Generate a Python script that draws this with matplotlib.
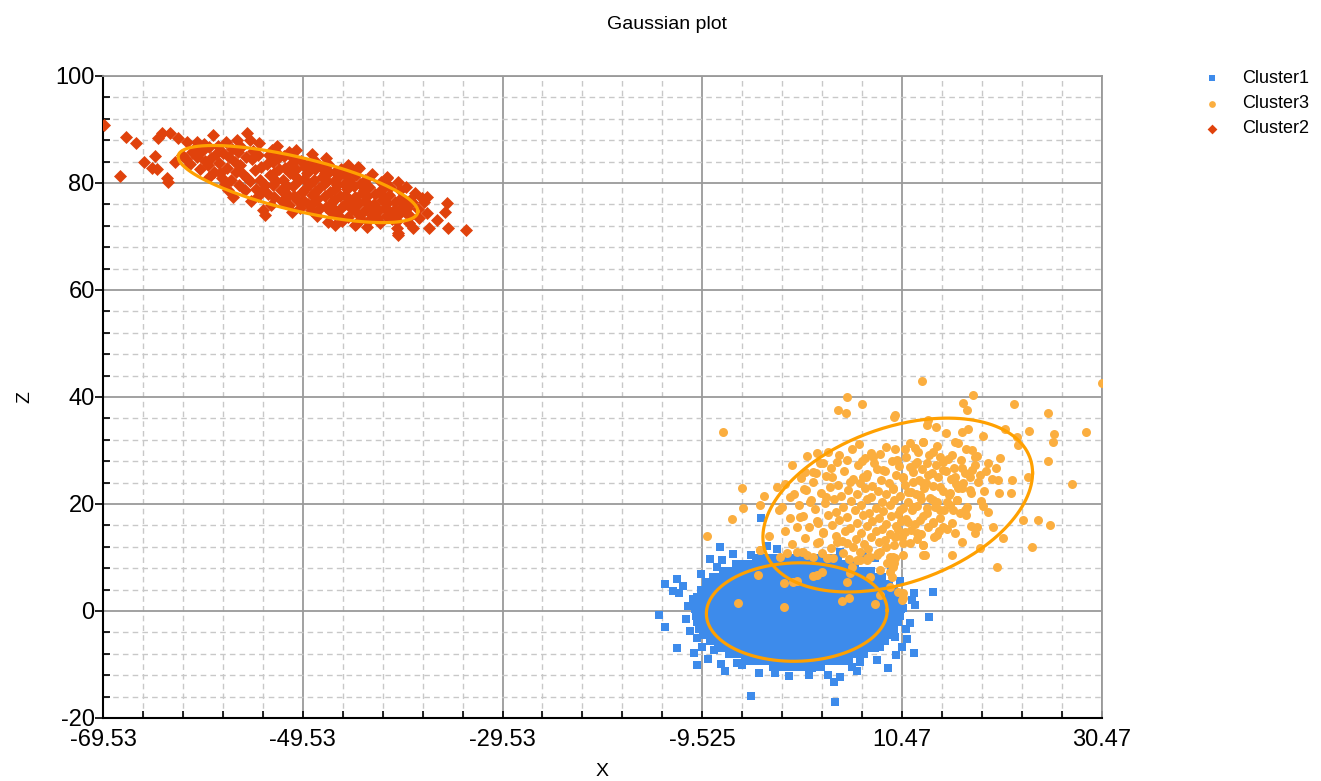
import numpy as np
import matplotlib.pyplot as plt
from matplotlib.ticker import FixedLocator, MultipleLocator

plt.rcParams['font.family'] = ['Liberation Sans', 'DejaVu Sans']
plt.rcParams['axes.unicode_minus'] = False

# ---------------- data ----------------
# Cluster1 (blue squares): dense core, one row per z level
c1_rows = [
    (9.9, [-4.1, -3.4, -2.6, -1.9, -1.1, -0.4, 0.4, 1.1, 1.9, 2.6, 3.4, 4.1]),
    (8.7, [-6.1, -5.4, -4.6, -3.9, -3.1, -2.4, -1.6, -0.9, -0.1, 0.6, 1.4, 2.1, 2.9, 3.6, 4.4, 5.1, 5.8]),
    (7.5, [-7.4, -6.7, -5.9, -5.2, -4.4, -3.7, -2.9, -2.2, -1.4, -0.7, 0.1, 0.8, 1.6, 2.3, 3.1, 3.8, 4.6,
           5.3, 6.1, 6.8, 7.4]),
    (6.3, [-8.4, -7.7, -6.9, -6.2, -5.4, -4.7, -3.9, -3.2, -2.4, -1.7, -0.9, -0.2, 0.6, 1.3, 2.1, 2.8, 3.6,
           4.3, 5.1, 5.8, 6.6, 7.3, 8.1, 8.5]),
    (5.1, [-9.1, -8.4, -7.6, -6.9, -6.1, -5.4, -4.6, -3.9, -3.1, -2.4, -1.6, -0.9, -0.1, 0.6, 1.4, 2.1, 2.9,
           3.6, 4.4, 5.1, 5.9, 6.6, 7.4, 8.1, 8.9, 9.2]),
    (3.9, [-9.6, -8.9, -8.1, -7.4, -6.6, -5.9, -5.1, -4.4, -3.6, -2.9, -2.1, -1.4, -0.6, 0.1, 0.9, 1.6, 2.4,
           3.1, 3.9, 4.6, 5.4, 6.1, 6.9, 7.6, 8.4, 9.1, 9.7]),
    (2.7, [-10.0, -9.3, -8.5, -7.8, -7.0, -6.3, -5.5, -4.8, -4.0, -3.3, -2.5, -1.8, -1.0, -0.3, 0.5, 1.2,
           2.0, 2.7, 3.5, 4.2, 5.0, 5.7, 6.5, 7.2, 8.0, 8.7, 9.5, 10.0]),
    (1.5, [-10.2, -9.5, -8.7, -8.0, -7.2, -6.5, -5.7, -5.0, -4.2, -3.5, -2.7, -2.0, -1.2, -0.5, 0.3, 1.0,
           1.8, 2.5, 3.3, 4.0, 4.8, 5.5, 6.3, 7.0, 7.8, 8.5, 9.3, 10.0, 10.3]),
    (0.3, [-10.3, -9.6, -8.8, -8.1, -7.3, -6.6, -5.8, -5.1, -4.3, -3.6, -2.8, -2.1, -1.3, -0.6, 0.2, 0.9,
           1.7, 2.4, 3.2, 3.9, 4.7, 5.4, 6.2, 6.9, 7.7, 8.4, 9.2, 9.9, 10.4]),
    (-0.9, [-10.2, -9.5, -8.7, -8.0, -7.2, -6.5, -5.7, -5.0, -4.2, -3.5, -2.7, -2.0, -1.2, -0.5, 0.3, 1.0,
            1.8, 2.5, 3.3, 4.0, 4.8, 5.5, 6.3, 7.0, 7.8, 8.5, 9.3, 10.0, 10.3]),
    (-2.1, [-10.1, -9.4, -8.6, -7.9, -7.1, -6.4, -5.6, -4.9, -4.1, -3.4, -2.6, -1.9, -1.1, -0.4, 0.4, 1.1,
            1.9, 2.6, 3.4, 4.1, 4.9, 5.6, 6.4, 7.1, 7.9, 8.6, 9.4, 10.1]),
    (-3.3, [-9.8, -9.1, -8.3, -7.6, -6.8, -6.1, -5.3, -4.6, -3.8, -3.1, -2.3, -1.6, -0.8, -0.1, 0.7, 1.4,
            2.2, 2.9, 3.7, 4.4, 5.2, 5.9, 6.7, 7.4, 8.2, 8.9, 9.7]),
    (-4.5, [-9.4, -8.7, -7.9, -7.2, -6.4, -5.7, -4.9, -4.2, -3.4, -2.7, -1.9, -1.2, -0.4, 0.3, 1.1, 1.8,
            2.6, 3.3, 4.1, 4.8, 5.6, 6.3, 7.1, 7.8, 8.6, 9.3]),
    (-5.7, [-8.7, -8.0, -7.2, -6.5, -5.7, -5.0, -4.2, -3.5, -2.7, -2.0, -1.2, -0.5, 0.3, 1.0, 1.8, 2.5,
            3.3, 4.0, 4.8, 5.5, 6.3, 7.0, 7.8, 8.5, 8.8]),
    (-6.9, [-7.9, -7.2, -6.4, -5.7, -4.9, -4.2, -3.4, -2.7, -1.9, -1.2, -0.4, 0.3, 1.1, 1.8, 2.6, 3.3,
            4.1, 4.8, 5.6, 6.3, 7.1, 7.8]),
    (-8.1, [-6.8, -6.1, -5.3, -4.6, -3.8, -3.1, -2.3, -1.6, -0.8, -0.1, 0.7, 1.4, 2.2, 2.9, 3.7, 4.4,
            5.2, 5.9, 6.7]),
    (-9.3, [-5.2, -4.5, -3.7, -3.0, -2.2, -1.5, -0.7, 0.0, 0.8, 1.5, 2.3, 3.0, 3.8, 4.5, 5.2]),
    (-10.5, [-2.4, -1.6, -0.8, 0.0, 0.8, 1.6, 2.4]),
]
c1_outliers = [
    (-7.7, 12.0), (-7.5, 9.5), (-8.0, 8.2), (-13.3, 5.0), (-12.1, 6.0), (-11.9, 3.4), (-12.5, 3.7),
    (-10.5, 2.2), (-13.9, -0.8), (-13.3, -3.0), (-12.1, -6.9), (-10.1, -10.1), (-7.6, -9.9), (-4.6, -15.9),
    (-10.0, -0.2), (-9.9, -2.1), (-10.1, -5.0), (-9.5, -6.7), (-9.1, 5.4), (-8.8, -1.3), (-8.3, -7.3),
    (-6.0, -9.7), (-5.5, -10.1), (-3.8, -11.6), (-2.2, -11.6), (-4.6, 10.5), (-5.1, 8.4), (-4.3, 8.2),
    (-3.0, 12.1), (4.3, 11.0), (13.6, 3.6), (13.2, -1.1), (11.7, 3.4), (11.5, 2.1), (10.9, -3.4),
    (10.5, -6.7), (11.7, -7.9), (9.1, -10.6), (9.8, -4.9), (9.6, -1.1), (10.6, 0.6), (8.3, -6.7),
    (6.3, -9.5), (5.5, -10.5), (4.3, -12.3), (3.7, -13.3), (3.1, -12.0), (3.8, -17.0), (1.5, -10.6),
    (0.7, -10.5), (-1.1, -10.1), (8.6, 3.9), (8.1, 5.2), (6.6, 10.5), (-3.6, 17.3), (-2.0, 11.5),
    (-11.0, 1.0), (-11.2, -1.5), (-10.8, -3.8), (-11.5, 4.6), (-9.6, 7.0), (-8.7, 9.8), (-6.4, 10.6),
    (-10.4, -7.9), (-8.9, -9.0), (-7.2, -11.2), (-0.8, -12.2), (1.2, -11.9), (6.0, -11.3), (8.0, -9.2),
    (9.9, -8.3), (11.0, -5.2), (11.3, -2.3), (11.8, 1.2), (10.3, 5.6), (9.4, 8.2), (7.8, 9.9),
]

# Cluster3 (orange circles)
c3_points = [
    (6.2, 31.3), (8.9, 30.7), (11.3, 31.4), (14.0, 30.8), (15.8, 31.6), (12.6, 31.6),
    (3.1, 29.8), (5.5, 30.3), (7.4, 29.6), (9.8, 30.2), (12.1, 29.7), (16.9, 30.2),
    (1.0, 28.9), (4.2, 29.2), (6.8, 28.6), (8.3, 29.3), (10.9, 28.7), (13.2, 29.1), (15.1, 28.5), (18.0, 29.0),
    (2.3, 27.7), (5.0, 28.2), (7.7, 27.6), (9.5, 28.1), (11.8, 27.5), (14.6, 27.9), (16.4, 28.3), (19.1, 27.6),
    (-0.5, 27.2), (3.4, 26.8), (6.1, 27.3), (8.0, 26.6), (10.2, 27.1), (12.5, 26.5), (13.9, 27.2), (15.7, 26.7),
    (17.8, 27.3),
    (1.9, 25.8), (4.7, 26.2), (7.0, 25.6), (8.8, 26.1), (9.9, 25.4), (11.6, 26.0), (13.1, 25.5), (14.9, 26.1),
    (16.8, 25.7), (18.9, 26.2),
    (0.4, 24.9), (2.9, 25.2), (5.6, 24.6), (6.9, 25.1), (8.4, 24.5), (10.6, 24.9), (12.2, 24.4), (14.1, 25.1),
    (15.4, 24.6), (17.3, 25.0), (19.5, 24.7),
    (-1.2, 23.8), (1.6, 24.1), (4.1, 23.6), (6.3, 24.0), (7.5, 23.4), (9.2, 23.9), (10.8, 23.5), (12.9, 24.0),
    (13.6, 23.3), (15.9, 23.8), (18.1, 24.2),
    (0.9, 22.7), (3.3, 23.1), (5.1, 22.6), (6.8, 22.9), (8.1, 22.4), (9.6, 22.8), (11.4, 22.3), (12.7, 23.0),
    (14.6, 22.5), (16.5, 22.9), (18.7, 22.4),
    (-0.3, 21.8), (2.4, 22.1), (4.4, 21.5), (6.0, 21.9), (7.4, 21.3), (8.9, 21.8), (10.3, 21.4), (11.9, 21.9),
    (13.3, 21.2), (15.2, 21.7), (17.4, 22.0),
    (1.4, 20.7), (3.7, 21.0), (5.4, 20.5), (7.0, 20.9), (8.5, 20.3), (9.7, 20.8), (11.1, 20.4), (12.4, 20.9),
    (14.0, 20.3), (16.0, 20.8), (18.4, 20.5),
    (0.2, 19.8), (2.8, 20.1), (4.6, 19.5), (6.4, 19.9), (7.9, 19.3), (9.3, 19.8), (10.6, 19.2), (12.0, 19.7),
    (13.8, 19.4), (15.3, 19.9), (17.0, 19.5),
    (-1.8, 18.8), (1.8, 19.0), (3.9, 18.5), (5.8, 18.9), (7.2, 18.3), (8.6, 18.7), (10.1, 18.2), (11.5, 18.8),
    (13.0, 18.4), (14.7, 18.9), (16.3, 18.3),
    (0.6, 17.8), (3.1, 18.0), (5.0, 17.5), (6.6, 17.9), (8.2, 17.3), (9.4, 17.8), (10.9, 17.2), (12.6, 17.7),
    (14.3, 17.4), (16.9, 17.9),
    (2.0, 16.8), (4.2, 17.0), (6.0, 16.5), (7.5, 16.9), (8.9, 16.3), (10.4, 16.8), (11.8, 16.2), (13.6, 16.7),
    (15.5, 16.4),
    (1.2, 15.7), (3.5, 16.0), (5.3, 15.5), (7.0, 15.9), (8.5, 15.3), (9.9, 15.8), (11.4, 15.2), (13.1, 15.7),
    (15.0, 15.4), (17.4, 15.8),
    (2.6, 14.8), (4.8, 15.0), (6.4, 14.5), (7.9, 14.9), (9.3, 14.3), (10.8, 14.8), (12.4, 14.4), (14.2, 14.9),
    (0.8, 13.7), (3.9, 14.0), (5.9, 13.5), (7.4, 13.9), (8.8, 13.3), (10.5, 13.8), (12.0, 13.4), (13.7, 13.8),
    (2.2, 12.8), (4.5, 13.0), (6.7, 12.5), (8.2, 12.9), (9.7, 12.3), (11.3, 12.7),
    (3.4, 11.8), (5.6, 12.0), (7.1, 11.5), (8.9, 11.9), (4.6, 10.8), (6.3, 11.0), (8.0, 10.5),
    (5.2, 9.8), (7.3, 10.1),
    # outer points
    (4.95, 40.0), (6.45, 38.7), (4.05, 37.6), (4.85, 37.0), (-7.47, 33.5), (9.65, 36.3), (1.94, 29.5),
    (2.55, 27.7), (3.95, 27.9), (6.45, 28.0), (7.55, 28.8), (0.74, 26.0), (1.54, 26.0), (3.45, 25.0),
    (5.25, 24.1), (6.55, 25.0), (8.55, 26.4), (-5.56, 23.0), (-2.06, 23.2), (-3.36, 21.5), (0.64, 22.8),
    (-0.76, 21.3), (-3.76, 19.8), (-5.46, 19.3), (-1.56, 19.4), (1.24, 20.4), (2.84, 21.3), (-6.56, 17.2),
    (-0.76, 17.4), (0.24, 17.6), (-0.06, 15.7), (-1.26, 15.0), (-2.86, 14.0), (-9.07, 14.0), (-0.56, 12.5),
    (-3.76, 11.4), (0.54, 11.0), (1.94, 12.7), (2.55, 14.6), (2.05, 16.4), (3.95, 12.9), (4.95, 12.7),
    (2.95, 9.9), (5.95, 9.5), (6.95, 9.9), (8.25, 11.0), (9.25, 10.1), (9.65, 9.0),
    (12.45, 43.0), (30.55, 42.6), (17.56, 40.4), (16.56, 38.9), (16.96, 37.6), (21.66, 38.7), (25.06, 37.0),
    (9.75, 36.6), (13.05, 35.7), (12.95, 34.8), (13.85, 34.4), (14.85, 33.3), (16.46, 33.5), (17.06, 34.0),
    (18.56, 32.7), (20.76, 34.0), (21.96, 32.5), (22.06, 31.0), (23.16, 33.6), (25.66, 33.1), (25.56, 31.6),
    (28.86, 33.5), (25.06, 28.0), (27.46, 23.7), (20.26, 28.6), (19.86, 26.7), (20.06, 24.5), (20.16, 22.1),
    (21.46, 24.5), (21.36, 22.1), (23.06, 25.0), (22.56, 17.0), (24.06, 17.0), (25.26, 16.1), (23.46, 12.0),
    (19.96, 8.2), (18.56, 19.6), (19.06, 18.5), (19.56, 15.7), (17.96, 15.7), (17.76, 14.6), (20.56, 13.6),
    (18.26, 11.8), (16.46, 12.9), (15.46, 10.5), (12.56, 12.3), (12.76, 10.5), (10.55, 12.7),
    (12.56, 31.6), (10.75, 30.3), (11.75, 30.5), (13.55, 29.7), (14.25, 28.8), (15.46, 29.2), (16.06, 31.4),
    (17.46, 30.1), (17.76, 28.8), (16.46, 26.7), (17.46, 26.4), (18.26, 25.4), (9.95, 28.2), (11.25, 26.9),
    (11.95, 27.9), (12.95, 27.7), (13.45, 25.8), (14.55, 26.4), (15.75, 25.0), (16.56, 23.9), (17.26, 22.6),
    (16.06, 23.0), (15.26, 22.1), (14.25, 23.2), (12.56, 23.9), (11.55, 24.1), (10.55, 25.0), (9.55, 23.0),
    (11.05, 22.2), (12.25, 21.7), (13.55, 20.7), (14.95, 20.4), (15.96, 20.7), (16.76, 18.9), (15.55, 18.9),
    (14.25, 18.9), (12.95, 19.3), (11.55, 19.4), (10.25, 18.9), (11.05, 16.6), (12.25, 17.0), (13.55, 16.4),
    (14.55, 15.7), (15.75, 14.6), (13.95, 14.2), (11.95, 14.6), (10.05, 15.1), (9.75, 13.8),
    # points lying over the blue cluster
    (-5.9, 1.5), (-1.3, 0.8), (4.45, 1.9), (5.15, 2.4), (7.75, 1.3), (10.45, 2.1), (-3.9, 6.7), (-1.35, 5.2),
    (-0.06, 5.6), (1.54, 6.5), (2.45, 7.3), (5.25, 7.1), (7.25, 6.4), (8.25, 7.7), (9.25, 7.3), (10.05, 3.6),
    (10.55, 2.4), (8.95, 9.0), (9.55, 10.1), (6.95, 9.5), (3.55, 9.9), (2.45, 10.8), (1.55, 10.1), (0.44, 11.0),
    (-1.06, 10.8), (-1.76, 10.1), (-3.76, 11.4), (8.25, 3.0), (10.55, 3.4), (9.25, 4.5), (9.45, 6.4),
    (9.55, 8.2), (9.75, 9.9), (10.55, 10.5), (12.55, 10.5), (12.55, 12.3), (-0.46, 5.4), (1.94, 6.7),
    (5.45, 8.2), (4.95, 5.4), (6.25, 9.5), (8.05, 10.8), (-0.06, 11.0), (0.95, 10.5), (3.05, 9.9),
]

# Cluster2 (red diamonds)
c2_points = [
    (-69.4, 90.8), (-67.2, 88.6), (-66.2, 87.5), (-67.8, 81.3), (-65.4, 83.9), (-64.6, 82.8), (-64.1, 82.6),
    (-64.3, 85.0), (-63.1, 80.9), (-63.0, 80.2), (-64.0, 88.4), (-63.6, 89.3), (-62.8, 89.3), (-62.0, 88.4),
    (-62.3, 83.9), (-61.1, 87.7), (-60.1, 87.7), (-58.5, 89.0), (-55.1, 89.3), (-54.8, 88.0), (-56.5, 77.4),
    (-53.5, 75.0), (-53.3, 74.0), (-50.2, 86.2), (-50.9, 85.8), (-47.2, 84.7), (-43.9, 82.8), (-44.7, 82.6),
    (-41.1, 80.9), (-40.0, 80.2), (-47.0, 72.7), (-46.3, 72.1), (-44.2, 72.3), (-43.1, 71.8), (-41.8, 72.5),
    (-40.0, 70.7), (-40.1, 71.6), (-38.5, 71.6), (-36.9, 71.6), (-35.0, 71.6), (-33.2, 71.2), (-36.1, 73.1),
    (-37.1, 74.4), (-37.6, 77.2), (-37.1, 77.4), (-35.1, 76.3), (-35.3, 74.6), (-38.8, 76.8), (-39.8, 78.7),
    (-40.8, 79.3), (-37.4, 76.4), (-40.0, 70.3), (-44.3, 72.1), (-44.0, 83.0), (-41.1, 81.1),
    # core
    (-61.2, 84.5), (-60.6, 85.8), (-60.8, 83.6), (-59.6, 85.9), (-59.3, 84.1), (-59.8, 82.6), (-58.9, 86.7),
    (-58.2, 85.5), (-57.9, 83.8), (-58.4, 82.0), (-57.6, 81.0), (-58.0, 86.9), (-56.9, 84.9), (-56.6, 86.4),
    (-57.1, 82.8), (-56.7, 80.6), (-57.3, 79.9), (-55.8, 83.3), (-56.0, 85.7), (-55.5, 81.6), (-55.9, 79.6),
    (-55.7, 86.8), (-54.6, 84.4), (-54.3, 82.5), (-54.8, 80.4), (-54.2, 78.8), (-54.5, 86.0), (-54.0, 77.6),
    (-53.1, 83.6), (-52.8, 81.5), (-53.3, 79.6), (-52.9, 85.3), (-53.0, 77.9), (-52.6, 86.1), (-51.9, 82.6),
    (-52.2, 80.4), (-51.7, 78.7), (-52.0, 84.6), (-51.6, 76.6), (-52.3, 85.9), (-50.8, 81.8), (-51.1, 79.4),
    (-50.6, 83.7), (-51.0, 77.5), (-50.7, 85.1), (-50.9, 75.9), (-49.9, 80.6), (-50.2, 82.7), (-49.6, 78.4),
    (-50.1, 76.8), (-49.7, 84.2), (-49.8, 75.3), (-48.8, 79.9), (-49.1, 81.9), (-48.6, 77.8), (-48.9, 83.5),
    (-49.0, 76.1), (-48.7, 74.9), (-47.9, 79.0), (-47.6, 81.2), (-48.1, 77.0), (-47.7, 82.9), (-47.8, 75.4),
    (-48.2, 84.0), (-46.8, 78.4), (-47.1, 80.3), (-46.6, 76.5), (-46.9, 82.1), (-46.7, 74.6), (-47.0, 83.5),
    (-45.8, 77.6), (-46.1, 79.6), (-45.6, 75.6), (-45.9, 81.3), (-46.0, 74.0), (-45.7, 82.6), (-44.8, 76.9),
    (-45.1, 78.8), (-44.6, 75.1), (-44.9, 80.6), (-45.0, 73.6), (-43.9, 76.2), (-43.6, 78.1), (-44.1, 74.4),
    (-43.8, 79.9), (-43.7, 73.2), (-44.2, 81.4), (-42.8, 75.7), (-43.1, 77.5), (-42.6, 74.0), (-42.9, 79.2),
    (-43.0, 72.9), (-41.9, 75.0), (-41.6, 76.8), (-42.1, 73.5), (-41.8, 78.5), (-41.7, 80.1), (-40.8, 74.6),
    (-41.1, 76.2), (-40.6, 73.2), (-40.9, 77.8), (-39.9, 74.2), (-39.6, 75.6), (-40.1, 72.9), (-39.8, 77.0),
    (-38.8, 73.8), (-39.1, 75.3), (-38.6, 76.4), (-38.9, 72.6),
    (-60.1, 84.9), (-59.0, 83.3), (-58.7, 84.6), (-57.5, 85.6), (-57.8, 81.9), (-56.3, 84.0), (-56.2, 82.1),
    (-55.2, 84.9), (-55.1, 80.9), (-55.3, 78.7), (-54.0, 85.2), (-53.7, 82.9), (-53.8, 80.6), (-53.5, 78.6),
    (-52.5, 84.0), (-52.4, 81.9), (-52.5, 79.7), (-52.4, 77.4), (-51.4, 85.0), (-51.3, 82.8), (-51.5, 80.6),
    (-51.3, 78.3), (-51.4, 76.4), (-50.3, 84.4), (-50.4, 81.5), (-50.5, 79.4), (-50.4, 77.6), (-49.3, 83.0),
    (-49.4, 80.8), (-49.3, 78.9), (-49.5, 76.9), (-48.3, 82.6), (-48.4, 80.5), (-48.3, 78.4), (-48.5, 76.3),
    (-47.3, 81.9), (-47.4, 79.8), (-47.3, 77.6), (-47.2, 75.6), (-46.3, 82.0), (-46.4, 80.4), (-46.3, 78.8),
    (-46.4, 76.9), (-46.3, 75.0), (-45.3, 81.7), (-45.4, 79.8), (-45.3, 77.8), (-45.3, 76.1), (-44.4, 79.4),
    (-44.3, 77.4), (-44.4, 75.6), (-43.3, 80.6), (-43.4, 78.6), (-43.3, 76.6), (-43.4, 74.8), (-42.3, 77.9),
    (-42.4, 76.1), (-42.3, 74.3), (-41.3, 79.4), (-41.4, 77.3), (-41.3, 75.4), (-41.2, 73.9), (-40.3, 76.5),
    (-40.4, 74.9), (-39.3, 74.6), (-39.4, 76.3),
    (-61.6, 85.3), (-60.3, 86.5), (-59.4, 87.2), (-57.2, 87.6), (-56.1, 88.1), (-53.9, 87.4), (-52.1, 87.0),
    (-58.9, 81.2), (-57.0, 78.6), (-54.7, 76.6), (-52.7, 75.8), (-50.6, 74.6), (-48.1, 73.8), (-45.6, 72.9),
    (-38.0, 75.1), (-37.9, 73.4), (-38.3, 78.1), (-39.2, 79.3), (-42.6, 81.6), (-45.0, 83.4), (-48.6, 85.4),
]

# fitted gaussians: centre and two conjugate half-diameters (data units)
ellipse_centers = [(-0.06, -0.2), (10.05, 19.8), (-50.0, 79.8)]
ellipse_u = [(9.05, 0.3), (13.5, 6.0), (12.0, -5.1)]
ellipse_v = [(0.0, 9.2), (0.0, 15.1), (0.0, 5.1)]

x_ticks = [-69.525, -49.525, -29.525, -9.525, 10.475, 30.475]
x_tick_labels = ['-69.53', '-49.53', '-29.53', '-9.525', '10.47', '30.47']
y_ticks = [-20, 0, 20, 40, 60, 80, 100]

# ---------------- build arrays ----------------
c1_x = [x for y, xs in c1_rows for x in xs] + [p[0] for p in c1_outliers]
c1_y = [y for y, xs in c1_rows for x in xs] + [p[1] for p in c1_outliers]
c3_x, c3_y = zip(*c3_points)
c2_x, c2_y = zip(*c2_points)

fig = plt.figure(figsize=(13.21, 7.81), dpi=100)
ax = fig.add_axes([0.078, 0.0807, 0.756, 0.822])

ax.scatter(c1_x, c1_y, marker='s', s=34, color='#3D8BEB', linewidths=0, label='Cluster1', zorder=3)
ax.scatter(c3_x, c3_y, marker='o', s=42, color='#FBAE3F', linewidths=0, label='Cluster3', zorder=3)
ax.scatter(c2_x, c2_y, marker='D', s=44, color='#E0420C', linewidths=0, label='Cluster2', zorder=3)

t = np.linspace(0, 2 * np.pi, 300)
for (cx, cy), (ux, uy), (vx, vy) in zip(ellipse_centers, ellipse_u, ellipse_v):
    ax.plot(cx + ux * np.cos(t) + vx * np.sin(t), cy + uy * np.cos(t) + vy * np.sin(t),
            color='#FFA000', lw=2.3, zorder=4)

ax.set_xlim(x_ticks[0], x_ticks[-1])
ax.set_ylim(-20, 100)
ax.xaxis.set_major_locator(FixedLocator(x_ticks))
ax.set_xticklabels(x_tick_labels)
ax.xaxis.set_minor_locator(MultipleLocator(4, offset=x_ticks[0]))
ax.yaxis.set_major_locator(FixedLocator(y_ticks))
ax.yaxis.set_minor_locator(MultipleLocator(4))

ax.grid(which='major', color='#9A9A9A', lw=1.3, ls='-', zorder=0)
ax.grid(which='minor', color='#C8C8C8', lw=1.0, ls=(0, (4, 3)), zorder=0)
ax.set_axisbelow(True)

for side in ('top', 'right'):
    ax.spines[side].set_color('#9A9A9A')
    ax.spines[side].set_linewidth(1.3)
for side in ('left', 'bottom'):
    ax.spines[side].set_color('black')
    ax.spines[side].set_linewidth(1.5)

ax.tick_params(axis='x', which='both', direction='in', length=5, width=1.2, labelsize=17, pad=8)
ax.tick_params(axis='y', which='major', direction='out', length=6, width=1.2, labelsize=17, pad=0)
ax.tick_params(axis='y', which='minor', direction='in', length=5, width=1.2)

ax.set_xlabel('X', fontsize=14)
ax.xaxis.set_label_coords(0.5, -0.07)
ax.set_ylabel('Z', fontsize=14)
ax.yaxis.set_label_coords(-0.07, 0.5)
fig.suptitle('Gaussian plot', x=0.505, y=0.98, fontsize=14)

fig.legend(loc='upper left', bbox_to_anchor=(0.898, 0.931), frameon=False, fontsize=13,
           markerscale=0.75, handlelength=1.0, handletextpad=1.2, labelspacing=0.45)

fig.savefig('out.png', dpi=100)
